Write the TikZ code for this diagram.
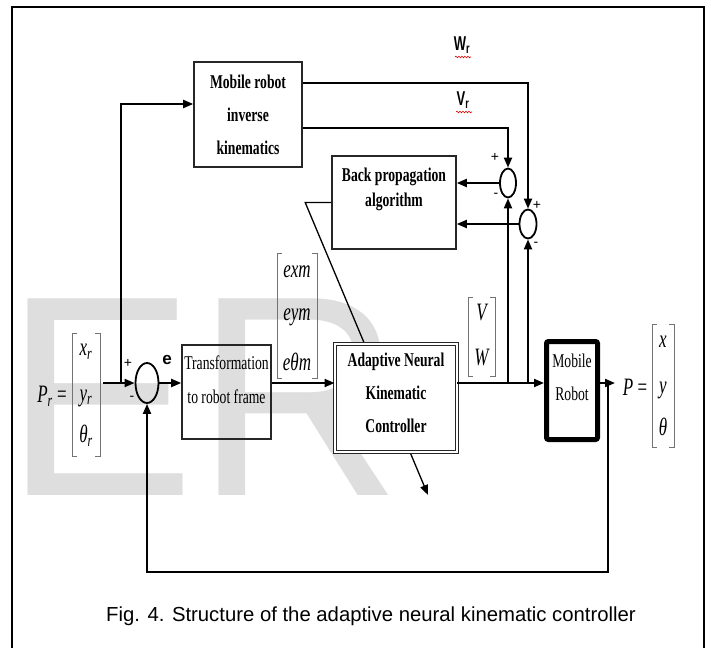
\documentclass[tikz,border=0pt]{standalone}
\usepackage{fontspec}
\usepackage{tikz}
\usetikzlibrary{arrows.meta,shapes.geometric,decorations.pathmorphing}

\newfontfamily\blkfont[FakeStretch=0.7]{Liberation Serif}
\newfontfamily\symfont[FakeStretch=0.68]{Liberation Serif}
\newfontfamily\labfont[FakeStretch=0.65]{Liberation Sans}
\newfontfamily\capfont{Liberation Sans}

% Klammern eines Spaltenvektors: x links, x rechts, y oben, y unten
\newcommand{\colbr}[4]{%
  \draw[brk] ({#1+5},#3) -| (#1,#4) -- ++(5,0);
  \draw[brk] ({#2-5},#3) -| (#2,#4) -- ++(-5,0);}

\begin{document}
\begin{tikzpicture}[x=1pt,y=-1pt,
    blk/.style={draw=black!85, line width=1.6pt, inner sep=0pt, align=center,
      font=\blkfont\fontsize{19.5}{33}\selectfont},
    bblk/.style={blk, font=\blkfont\bfseries\fontsize{19.5}{33}\selectfont},
    txt/.style={inner sep=0pt, align=center, font=\blkfont\fontsize{19.5}{34}\selectfont},
    btxt/.style={inner sep=0pt, align=center, font=\blkfont\bfseries\fontsize{19.5}{33}\selectfont},
    sumj/.style={ellipse, draw, line width=1.8pt, inner sep=0pt},
    sig/.style={line width=2pt, -{Triangle[length=10pt,width=8pt]}},
    brk/.style={black!55, line width=1pt},
    ent/.style={inner sep=0pt, font=\symfont\itshape\fontsize{25}{28}\selectfont},
    sgn/.style={inner sep=0pt, font=\capfont\fontsize{14}{16}\selectfont},
    lab/.style={inner sep=0pt, font=\labfont\bfseries\fontsize{20}{24}\selectfont},
    squig/.style={red!85!black, line width=0.6pt, decorate,
      decoration={snake, amplitude=0.8pt, segment length=3pt}}
  ]
  \useasboundingbox (0,0) rectangle (711,647);

  % Wasserzeichen
  \node[anchor=base west, inner sep=0pt, text=black!13,
    font=\capfont\fontsize{286}{300}\selectfont] (wmark) at (4.4,495) {ER};

  % Rahmen
  \draw[line width=2pt] (12,650) -- (12,7) -- (704,7) -- (704,650);

  % Bloecke
  \node[bblk, minimum width=108pt, minimum height=105pt] (invkin) at (248,114.5)
    {Mobile robot\\inverse\\kinematics};
  \node[blk, minimum width=124pt, minimum height=93pt,
    label={[btxt, font=\blkfont\bfseries\fontsize{19.5}{25}\selectfont, yshift=13pt]center:{Back propagation\\algorithm}}]
    (bp) at (394,202.5) {};
  \node[blk, minimum width=89pt, minimum height=94pt,
    label={[txt, yshift=12pt]center:{Transformation\\to robot frame}}]
    (trans) at (226.5,392) {};
  \node[blk, draw=black, line width=5pt, rounded corners=2pt, minimum width=51pt, minimum height=98pt,
    label={[txt, font=\blkfont\fontsize{19.5}{33}\selectfont, yshift=13pt]center:{Mobile\\Robot}}]
    (robot) at (572,390.5) {};

  % Summierstellen
  \node[sumj, minimum width=23pt, minimum height=40pt] (sum0) at (147,383) {};
  \node[sumj, minimum width=16pt, minimum height=29pt] (sum1) at (508,183) {};
  \node[sumj, minimum width=17pt, minimum height=29pt] (sum2) at (528,224) {};

  % Adaption (liegt hinter dem Regler)
  \draw[line width=1.3pt, -{Triangle[length=10pt,width=8pt]}]
    (bp.west) -- ++(-26,0) -- (428,495);
  \node[blk, fill=white, double=white, double distance=1.6pt, line width=0.9pt,
    minimum width=122pt, minimum height=108pt,
    label={[btxt, yshift=5pt]center:{Adaptive Neural\\Kinematic\\Controller}}]
    (ankc) at (396,398) {};

  % Signale
  \coordinate (prout) at (103,383);
  \coordinate (br0) at (121,383);
  \coordinate (pout) at (615,383);
  \coordinate (fb) at (608,383);
  \draw[sig] (prout) -- (sum0.west);
  \draw[sig] (br0) |- (invkin.west |- 0,104);
  \draw[sig] (sum0.east) -- (trans.west |- sum0);
  \draw[sig] (trans.east |- sum0) -- (ankc.west |- sum0);
  \draw[sig] (ankc.east |- sum0) -- (robot.west |- sum0);
  \draw[sig] (robot.east |- sum0) -- (pout);
  \draw[sig] (fb) -- ++(0,189) -| (sum0.south);
  \draw[sig] (sum1.south |- sum0) -- (sum1.south);
  \draw[sig] (sum2.south |- sum0) -- (sum2.south);
  \draw[sig] (invkin.east |- 0,128) -| (sum1.north);
  \draw[sig] (invkin.east |- 0,83) -| (sum2.north);
  \draw[sig] (sum1.west) -- (sum1.west -| bp.east);
  \draw[sig] (sum2.west) -- (sum2.west -| bp.east);

  % Vorzeichen
  \node[sgn] (p0) at (128,363) {+};
  \node[sgn] (m0) at (132,398) {-};
  \node[sgn] (p1) at (495,157) {+};
  \node[sgn] (m1) at (496,195) {-};
  \node[sgn] (p2) at (537,205) {+};
  \node[sgn] (m2) at (536,244) {-};
  \node[inner sep=0pt, font=\capfont\bfseries\fontsize{17}{20}\selectfont] (elab) at (167,360) {e};

  % Referenzgeschwindigkeiten
  \node[lab] (wr) at (462,45) {W\textsubscript{r}};
  \node[lab] (vr) at (463,100) {V\textsubscript{r}};
  \draw[squig] (455,57) -- (471,57);
  \draw[squig] (456,112) -- (472,112);

  % Vektoren
  \node[ent] (prlab) at (52,396) {P\textsubscript{r} \upshape=};
  \node[ent] (xr) at (86,352) {x\textsubscript{r}};
  \node[ent] (yr) at (86,398) {y\textsubscript{r}};
  \node[ent] (thr) at (86,436) {θ\textsubscript{r}};
  \colbr{72}{100}{333}{456}
  \node[ent] (exm) at (297,272) {exm};
  \node[ent] (eym) at (297,317) {eym};
  \node[ent] (etm) at (297,362) {eθm};
  \colbr{277}{317}{253}{378}
  \node[ent] (vv) at (481.5,313) {V};
  \node[ent] (ww) at (481.5,358) {W};
  \colbr{468}{495}{297}{376}
  \node[ent] (plab) at (635,387) {P \upshape=};
  \node[ent] (xx) at (663,342) {x};
  \node[ent] (yy) at (663,390) {y};
  \node[ent] (th) at (663,427) {θ};
  \colbr{652}{674}{324}{447}

  % Bildunterschrift
  \node[anchor=base, inner sep=0pt, font=\capfont\fontsize{20.3}{24}\selectfont] (cap) at (371,621)
    {Fig. 4. Structure of the adaptive neural kinematic controller};
\end{tikzpicture}
\end{document}
